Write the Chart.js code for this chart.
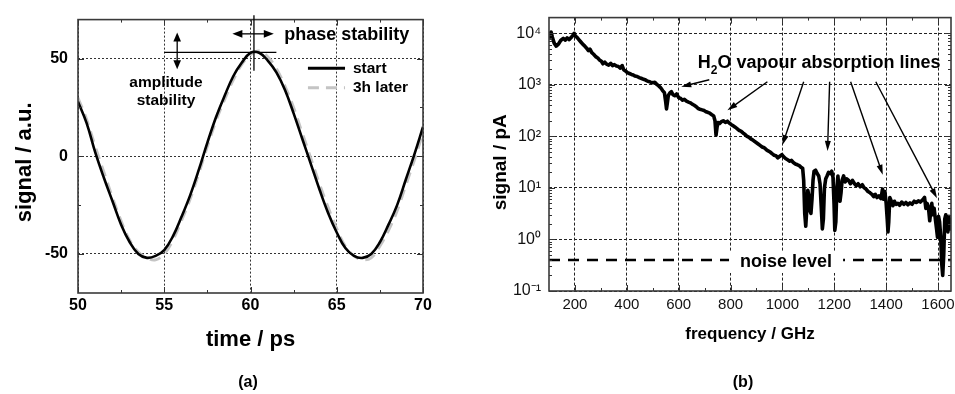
<!DOCTYPE html>
<html>
<head>
<meta charset="utf-8">
<script src="https://cdn.jsdelivr.net/npm/chart.js@4.4.1/dist/chart.umd.min.js"></script>
<style>
  html, body { margin: 0; padding: 0; background: #fff; width: 955px; height: 394px; overflow: hidden; }
  #wrapA { position: absolute; left: 0; top: 0; width: 496px; height: 394px; }
  #wrapB { position: absolute; left: 480px; top: 0; width: 526px; height: 394px; }
</style>
</head>
<body>
<div id="wrapA"><canvas id="chartA" width="496" height="394"></canvas></div>
<div id="wrapB"><canvas id="chartB" width="526" height="394"></canvas></div>
<script>
// ── Panel (a): THz waveform, start vs 3h later ─────────────────
const timePs = [50, 50.5, 51, 51.5, 52, 52.5, 53, 53.5, 54, 54.5,
                55, 55.5, 56, 56.5, 57, 57.5, 58, 58.5, 59, 59.5,
                60, 60.5, 61, 61.5, 62, 62.5, 63, 63.5, 64, 64.5,
                65, 65.5, 66, 66.5, 67, 67.5, 68, 68.5, 69, 69.5, 70];
const startSig = [28, 17, 2, -11, -23, -35, -44, -50, -52, -51,
                  -48, -41, -31, -20, -7, 7, 20, 31, 41, 48,
                  53, 53, 49, 43, 34, 22, 9, -4, -17, -29,
                  -39, -47, -51, -52, -50, -44, -35, -25, -12, 1, 15];
const laterSig = [30, 19, 5, -8, -21, -33, -43, -49, -52, -53,
                  -50, -43, -33, -22, -9, 5, 18, 29, 39, 47,
                  52, 54, 51, 45, 36, 25, 12, -1, -14, -26,
                  -37, -46, -51, -53, -52, -46, -38, -28, -15, -2, 12];
const timeTicks = [50, 55, 60, 65, 70];
const timeMinor = [52.5, 57.5, 62.5, 67.5];
const sigTicks = [-50, 0, 50];
const sigMinor = [-25, 25];

// ── Panel (b): spectrum with water lines ───────────────────────
const freqGHz = [
  100, 104, 108, 113, 120, 128, 136, 145, 155, 163,
  170, 178, 186, 192, 197, 202, 208, 215, 222, 230,
  238, 245, 252, 258, 265, 272, 280, 288, 295, 302,
  308, 315, 322, 330, 338, 345, 352, 360, 368, 375,
  382, 388, 395, 402, 410, 418, 425, 432, 440, 448,
  455, 462, 470, 478, 485, 492, 500, 508, 515, 522,
  530, 538, 545, 550, 553, 556, 560, 566, 572, 578,
  585, 592, 600, 608, 615, 622, 630, 638, 645, 652,
  660, 668, 675, 682, 690, 698, 705, 712, 720, 728,
  735, 740, 744, 748, 752, 758, 765, 772, 780, 788,
  795, 802, 810, 818, 825, 832, 840, 848, 855, 862,
  870, 878, 885, 892, 900, 908, 915, 922, 930, 938,
  945, 952, 960, 968, 975, 982, 990, 998, 1005, 1012,
  1020, 1028, 1035, 1042, 1050, 1058, 1065, 1072, 1078, 1082,
  1086, 1090, 1094, 1098, 1102, 1106, 1110, 1114, 1118, 1122,
  1128, 1134, 1140, 1145, 1150, 1154, 1158, 1162, 1167, 1172,
  1178, 1184, 1190, 1195, 1199, 1202, 1206, 1210, 1214, 1218,
  1222, 1226, 1230, 1236, 1242, 1248, 1255, 1262, 1270, 1278,
  1285, 1292, 1300, 1308, 1315, 1322, 1330, 1338, 1345, 1352,
  1358, 1365, 1372, 1380, 1386, 1390, 1395, 1400, 1404, 1407,
  1410, 1414, 1420, 1426, 1432, 1438, 1445, 1452, 1460, 1468,
  1476, 1484, 1492, 1500, 1508, 1516, 1524, 1532, 1540, 1548,
  1553, 1558, 1563, 1568, 1572, 1576, 1580, 1585, 1590, 1595,
  1598, 1602, 1606, 1610, 1614, 1618, 1622, 1626, 1630, 1634,
  1638, 1642, 1646, 1650];
const signalPA = [
  7500, 9800, 10500, 8300, 6400, 5600, 6100, 7200, 7900, 7300,
  8100, 7500, 8300, 9100, 9900, 8700, 8300, 7500, 6800, 6100,
  5600, 5100, 4600, 4900, 4200, 3900, 3500, 3300, 3000, 2850,
  2550, 2750, 2500, 2400, 2600, 2350, 2450, 2300, 2250, 2100,
  2350, 1950, 1850, 1720, 1650, 1580, 1540, 1470, 1440, 1370,
  1330, 1290, 1250, 1190, 1150, 1120, 1090, 1110, 1020, 960,
  880, 770, 700, 460, 340, 430, 620, 690, 730, 640,
  610, 660, 560, 540, 500, 520, 480, 460, 445, 420,
  400, 375, 345, 335, 325, 315, 300, 292, 280, 262,
  248, 200, 105, 150, 185, 178, 192, 200, 186, 196,
  181, 170, 160, 150, 141, 131, 126, 116, 110, 101,
  96, 89, 85, 80, 75, 70, 66, 62, 60, 55,
  52, 50, 46, 43, 42, 38, 41, 44, 40, 37,
  35, 33, 34, 31, 29, 28, 27, 25, 24, 14,
  3.2, 1.8, 4, 9, 7, 3.6, 3.2, 6, 14, 21,
  22, 19, 17, 12, 4, 1.6, 2.5, 10, 15, 17,
  20, 19, 21, 16, 5, 1.5, 2.2, 10, 17, 9,
  5.5, 8, 14, 17, 13, 15, 14, 12, 14, 12,
  11, 12, 10.5, 11.5, 10, 9.5, 8.5, 8, 7.5, 6.8,
  7.5, 6.5, 7, 6.2, 9.5, 6, 8.5, 5, 2.5, 1.4,
  2.2, 6.5, 5.5, 4.5, 5.5, 4.8, 5, 4.6, 5.3, 4.8,
  5.2, 4.7, 5.1, 4.8, 5.5, 5.2, 5.6, 5.3, 5.8, 6.5,
  4, 5, 4.2, 2.3, 3.5, 5, 3, 4, 2.4, 1.5,
  1.1, 2.8, 2.2, 1.2, 0.35, 0.2, 0.5, 2.5, 3, 2,
  1.4, 2.8, 1.6, 2.6];
const noiseFreq = [100, 1650];
const noisePA = [0.4, 0.4];
const freqTicks = [200, 400, 600, 800, 1000, 1200, 1400, 1600];
const freqMinor = [300, 500, 700, 900, 1100, 1300, 1500];
const decadeTicks = [0.1, 1, 10, 100, 1000, 10000];
const decadeLabels = ['10\u207B\u00B9', '10\u2070', '10\u00B9', '10\u00B2', '10\u00B3', '10\u2074'];

const FONT = "'Liberation Sans', Arial, Helvetica, sans-serif";

// ── helpers ────────────────────────────────────────────────────
function drawFrame(chart, xMaj, xMin, yMaj, yMin) {
  const { ctx, chartArea: a, scales: { x, y } } = chart;
  ctx.save();
  ctx.strokeStyle = '#333';
  ctx.lineWidth = 1;
  ctx.beginPath();
  const tx = (v, len) => {
    const p = Math.round(x.getPixelForValue(v)) + 0.5;
    ctx.moveTo(p, a.bottom); ctx.lineTo(p, a.bottom - len);
    ctx.moveTo(p, a.top); ctx.lineTo(p, a.top + len);
  };
  const ty = (v, len) => {
    const p = Math.round(y.getPixelForValue(v)) + 0.5;
    ctx.moveTo(a.left, p); ctx.lineTo(a.left + len, p);
    ctx.moveTo(a.right, p); ctx.lineTo(a.right - len, p);
  };
  xMaj.forEach(v => tx(v, 6));
  xMin.forEach(v => tx(v, 3));
  yMaj.forEach(v => ty(v, 6));
  yMin.forEach(v => ty(v, 3));
  ctx.stroke();
  ctx.lineWidth = 1.6;
  ctx.strokeStyle = '#3a3a3a';
  ctx.strokeRect(a.left, a.top, a.right - a.left, a.bottom - a.top);
  ctx.restore();
}

function arrowHead(ctx, x1, y1, x2, y2, len, half) {
  const ang = Math.atan2(y2 - y1, x2 - x1);
  const c = Math.cos(ang), s = Math.sin(ang);
  ctx.beginPath();
  ctx.moveTo(x2, y2);
  ctx.lineTo(x2 - len * c + half * s, y2 - len * s - half * c);
  ctx.lineTo(x2 - len * c - half * s, y2 - len * s + half * c);
  ctx.closePath();
  ctx.fill();
}

function seg(ctx, x1, y1, x2, y2) {
  ctx.beginPath(); ctx.moveTo(x1, y1); ctx.lineTo(x2, y2); ctx.stroke();
}

// panel letter under the axis title, centred at a page x
function panelLetter(chart, text, pageX, offsetX) {
  const { ctx } = chart;
  ctx.save();
  ctx.fillStyle = '#000';
  ctx.font = `bold 16px ${FONT}`;
  ctx.textAlign = 'center';
  ctx.textBaseline = 'middle';
  ctx.fillText(text, pageX - offsetX, 383);
  ctx.restore();
}

// ── Panel (a) annotations ──────────────────────────────────────
const panelA = {
  id: 'panelA',
  afterDraw(chart) {
    drawFrame(chart, timeTicks, timeMinor, sigTicks, sigMinor);
    panelLetter(chart, '(a)', 248, 0);
    const { ctx, scales: { x, y } } = chart;
    const X = v => x.getPixelForValue(v), Y = v => y.getPixelForValue(v);
    ctx.save();
    ctx.strokeStyle = '#000';
    ctx.fillStyle = '#000';
    ctx.lineWidth = 1.3;
    // peak markers
    seg(ctx, X(55), Y(53.2), X(61.5), Y(53.2));
    seg(ctx, X(60.2), Y(72.2), X(60.2), Y(43.8));
    // amplitude double arrow
    seg(ctx, X(55.75), Y(61), X(55.75), Y(47));
    arrowHead(ctx, X(55.75), Y(54), X(55.75), Y(63.4), 9, 3.8);
    arrowHead(ctx, X(55.75), Y(54), X(55.75), Y(44.6), 9, 3.8);
    // phase double arrow
    seg(ctx, X(59.3), Y(62.7), X(61.0), Y(62.7));
    arrowHead(ctx, X(60.2), Y(62.7), X(58.95), Y(62.7), 10, 3.8);
    arrowHead(ctx, X(60.2), Y(62.7), X(61.35), Y(62.7), 10, 3.8);

    ctx.textBaseline = 'alphabetic';
    ctx.font = `bold 18px ${FONT}`;
    ctx.textAlign = 'left';
    ctx.fillText('phase stability', X(61.95), Y(59.4));
    ctx.font = `bold 15.5px ${FONT}`;
    ctx.textAlign = 'center';
    ctx.fillText('amplitude', X(55.1), Y(35.6));
    ctx.fillText('stability', X(55.1), Y(26.2));

    // legend
    ctx.lineWidth = 3;
    seg(ctx, X(63.33), Y(45.1), X(65.48), Y(45.1));
    ctx.strokeStyle = '#c4c4c4';
    ctx.setLineDash([11, 7]);
    seg(ctx, X(63.33), Y(35.1), X(65.48), Y(35.1));
    ctx.setLineDash([]);
    ctx.font = `bold 15.5px ${FONT}`;
    ctx.textAlign = 'left';
    ctx.textBaseline = 'middle';
    ctx.fillText('start', X(65.94), Y(45.1));
    ctx.fillText('3h later', X(65.94), Y(35.1));
    ctx.restore();
  }
};

// ── Panel (b) annotations ──────────────────────────────────────
const lineArrows = [
  [718, 1245, 610, 915],
  [942, 1140, 788, 318],
  [1082, 1140, 1000, 68],
  [1182, 1140, 1174, 52],
  [1263, 1140, 1387, 18],
  [1360, 1140, 1596, 6.3]
];

const panelB = {
  id: 'panelB',
  afterDraw(chart) {
    const logMinor = [];
    decadeTicks.forEach(d => { for (let k = 2; k <= 9; k++) if (d * k < 20000) logMinor.push(d * k); });
    const { ctx, scales: { x, y } } = chart;
    const X = v => x.getPixelForValue(v), Y = v => y.getPixelForValue(v);
    ctx.save();
    // noise level label on white box
    ctx.font = `bold 18px ${FONT}`;
    const nl = 'noise level';
    const w = ctx.measureText(nl).width;
    const cx = X(1014), cy = Y(0.4) + 2;
    ctx.fillStyle = '#fff';
    ctx.fillRect(cx - w / 2 - 11, cy - 11, w + 22, 22);
    ctx.fillStyle = '#000';
    ctx.textAlign = 'center';
    ctx.textBaseline = 'middle';
    ctx.fillText(nl, cx, cy);
    ctx.restore();

    drawFrame(chart, freqTicks, freqMinor, decadeTicks, logMinor);
    panelLetter(chart, '(b)', 743, 480);

    ctx.save();
    ctx.fillStyle = '#000';
    ctx.strokeStyle = '#000';
    // H2O label with subscript
    ctx.textAlign = 'left';
    ctx.textBaseline = 'alphabetic';
    let tx = X(674), ty = Y(2115);
    ctx.font = `bold 18px ${FONT}`;
    ctx.fillText('H', tx, ty);
    tx += ctx.measureText('H').width;
    ctx.font = `bold 12px ${FONT}`;
    ctx.fillText('2', tx, ty + 6);
    tx += ctx.measureText('2').width;
    ctx.font = `bold 18px ${FONT}`;
    ctx.fillText('O vapour absorption lines', tx, ty);

    ctx.lineWidth = 1.4;
    lineArrows.forEach(([f1, v1, f2, v2]) => {
      const x1 = X(f1), y1 = Y(v1), x2 = X(f2), y2 = Y(v2);
      const ang = Math.atan2(y2 - y1, x2 - x1);
      seg(ctx, x1, y1, x2 - 6 * Math.cos(ang), y2 - 6 * Math.sin(ang));
      arrowHead(ctx, x1, y1, x2, y2, 10, 3);
    });
    ctx.restore();
  }
};

// ── Chart (a) ──────────────────────────────────────────────────
new Chart(document.getElementById('chartA'), {
  type: 'line',
  data: {
    datasets: [
      {
        label: 'start',
        data: timePs.map((t, i) => ({ x: t, y: startSig[i] })),
        borderColor: '#000',
        borderWidth: 2.6,
        pointRadius: 0,
        tension: 0.4,
        order: 0
      },
      {
        label: '3h later',
        data: timePs.map((t, i) => ({ x: t, y: laterSig[i] })),
        borderColor: '#c4c4c4',
        borderWidth: 2.8,
        borderDash: [11, 7],
        pointRadius: 0,
        tension: 0.4,
        order: 1
      }
    ]
  },
  options: {
    responsive: false,
    animation: false,
    devicePixelRatio: 1,
    layout: { autoPadding: false, padding: { left: 0, right: 73, top: 12, bottom: 0 } },
    plugins: {
      legend: { display: false },
      tooltip: { enabled: false }
    },
    scales: {
      x: {
        type: 'linear', min: 50, max: 70,
        afterBuildTicks: s => { s.ticks = timeTicks.map(v => ({ value: v })); },
        afterFit: s => { s.height = 101; },
        grid: { color: '#333', lineWidth: 1, drawTicks: false },
        border: { display: false, dash: [2, 2] },
        ticks: { color: '#000', padding: 3, maxRotation: 0, font: { family: FONT, size: 16, weight: 'bold' },
                 callback: v => String(v) },
        title: {
          display: true, text: 'time / ps', color: '#000',
          font: { family: FONT, size: 22, weight: 'bold' },
          padding: { top: 0, bottom: 41 }
        }
      },
      y: {
        type: 'linear', min: -70, max: 70,
        afterBuildTicks: s => { s.ticks = sigTicks.map(v => ({ value: v })); },
        afterFit: s => { s.width = 78; },
        grid: { color: '#333', lineWidth: 1, drawTicks: false },
        border: { display: false, dash: [2, 2] },
        ticks: { color: '#000', padding: 10, font: { family: FONT, size: 16, weight: 'bold' } },
        title: {
          display: true, text: 'signal / a.u.  ', color: '#000',
          font: { family: FONT, size: 22, weight: 'bold' },
          padding: { top: 12, bottom: 0 }
        }
      }
    }
  },
  plugins: [panelA]
});

// ── Chart (b) ──────────────────────────────────────────────────
new Chart(document.getElementById('chartB'), {
  type: 'line',
  data: {
    datasets: [
      {
        label: 'signal',
        data: freqGHz.map((f, i) => ({ x: f, y: signalPA[i] })),
        borderColor: '#000',
        borderWidth: 3.6,
        borderJoinStyle: 'round',
        pointRadius: 0,
        tension: 0,
        order: 0
      },
      {
        label: 'noise level',
        data: noiseFreq.map((f, i) => ({ x: f, y: noisePA[i] })),
        borderColor: '#000',
        borderWidth: 2.5,
        borderDash: [11, 8],
        pointRadius: 0,
        order: 1
      }
    ]
  },
  options: {
    responsive: false,
    animation: false,
    devicePixelRatio: 1,
    layout: { autoPadding: false, padding: { left: 0, right: 55, top: 14, bottom: 0 } },
    plugins: {
      legend: { display: false },
      tooltip: { enabled: false }
    },
    scales: {
      x: {
        type: 'linear', min: 100, max: 1650,
        afterBuildTicks: s => { s.ticks = freqTicks.map(v => ({ value: v })); },
        afterFit: s => { s.height = 103; },
        grid: { color: '#222', lineWidth: 1, drawTicks: false },
        border: { display: false, dash: [3, 2] },
        ticks: { color: '#111', padding: 5, maxRotation: 0, font: { family: FONT, size: 15 },
                 callback: v => String(v) },
        title: {
          display: true, text: 'frequency / GHz', color: '#000',
          font: { family: FONT, size: 17, weight: 'bold' },
          padding: { top: 0, bottom: 49 }
        }
      },
      y: {
        type: 'logarithmic', min: 0.1, max: 20000,
        afterBuildTicks: s => { s.ticks = decadeTicks.map(v => ({ value: v })); },
        afterFit: s => { s.width = 69; },
        grid: { color: '#222', lineWidth: 1, drawTicks: false },
        border: { display: false, dash: [3, 2] },
        ticks: {
          color: '#111', padding: 8, font: { family: FONT, size: 16 },
          callback: v => decadeLabels[decadeTicks.indexOf(v)]
        },
        title: {
          display: true, text: 'signal / pA   ', color: '#000',
          font: { family: FONT, size: 19, weight: 'bold' },
          padding: { top: 9, bottom: 0 }
        }
      }
    }
  },
  plugins: [panelB]
});
</script>
</body>
</html>
